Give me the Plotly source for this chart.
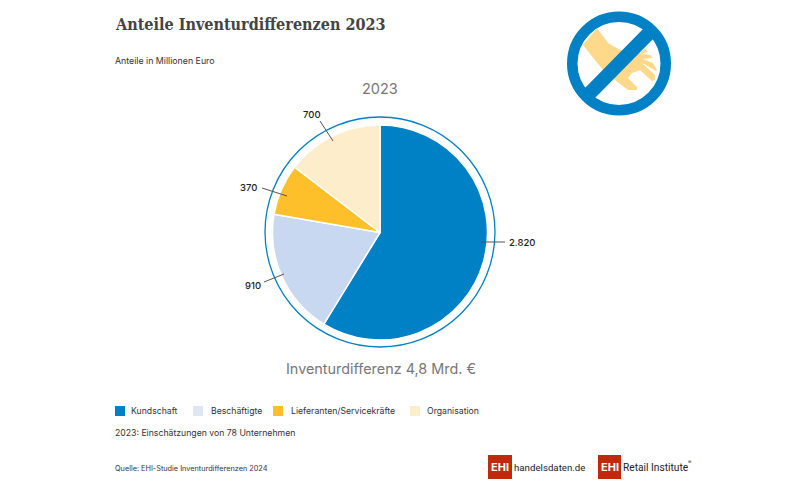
import plotly.graph_objects as go

W, H = 800, 484

categories = ["Kundschaft", "Beschäftigte", "Lieferanten/Servicekräfte", "Organisation"]
values = [2820, 910, 370, 700]
value_labels = ["2.820", "910", "370", "700"]
colors = ["#0080C5", "#C8D8F0", "#FDC02B", "#FEEDCB"]
legend_colors = ["#0080C5", "#DFE7F5", "#FDC02B", "#FEEDCB"]


def px(x):
    return x / W


def py(y):
    return 1 - y / H


def line(x0, y0, x1, y1, color="#555555", width=1):
    return dict(type="line", xref="paper", yref="paper", x0=px(x0), y0=py(y0), x1=px(x1), y1=py(y1),
                line=dict(color=color, width=width), layer="above")


def circle(cx, cy, r, color, width):
    return dict(type="circle", xref="paper", yref="paper", x0=px(cx - r), x1=px(cx + r), y0=py(cy + r), y1=py(cy - r),
                line=dict(color=color, width=width), layer="above")


def rect(x0, y0, x1, y1, color):
    return dict(type="rect", xref="paper", yref="paper", x0=px(x0), x1=px(x1), y0=py(y1), y1=py(y0),
                fillcolor=color, line=dict(width=0), layer="above")


def path(points, color):
    d = "M " + " L ".join(f"{px(x)},{py(y)}" for x, y in points) + " Z"
    return dict(type="path", xref="paper", yref="paper", path=d, fillcolor=color, line=dict(width=0), layer="above")


def text(x, y, s, size=9, color="#333333", anchor="left", family="Inter", bold=False, weight=None):
    font = dict(size=size, color=color, family=family)
    if weight:
        font["weight"] = weight
    return dict(xref="paper", yref="paper", x=px(x), y=py(y), text=f"<b>{s}</b>" if bold else s, showarrow=False,
                xanchor=anchor, yanchor="middle", font=font, borderpad=0)


fig = go.Figure(go.Pie(
    labels=categories,
    values=values,
    sort=False,
    direction="clockwise",
    rotation=0,
    textinfo="none",
    showlegend=False,
    marker=dict(colors=colors, line=dict(color="white", width=1.5)),
    domain=dict(x=[px(272.5), px(487.5)], y=[py(340), py(125)]),
))

# Ring and leader lines round the pie
shapes = [
    circle(380, 232, 115, "#0080C5", 1.3),
    line(481, 242, 505, 242),
    line(284, 274, 264, 282),
    line(287, 196, 262, 188),
    line(333, 141, 320, 121),
]

# Crossed-out hand icon
hand = [(583, 45), (597, 28), (608, 43), (620, 50), (640, 53), (646, 48), (647, 52), (642, 54), (650, 55), (653, 58),
        (643, 59), (653, 63), (657, 70), (656, 71), (642, 63), (655, 75), (655, 80), (652, 81), (640, 70), (632, 73),
        (628, 78), (637, 87), (637, 90), (628, 90), (615, 80), (603, 70)]
shapes += [
    path(hand, "#FED98B"),
    circle(619, 63.5, 46.75, "#0080C5", 10.5),
    line(588, 95, 651, 31, "#0080C5", 14),
]

# Legend
for x, c in zip([115, 193, 273, 410], legend_colors):
    shapes.append(rect(x, 406, x + 10, 416, c))

# Logos
shapes += [rect(488, 455, 512, 479, "#BF2A0B"), rect(598, 455, 621, 479, "#BF2A0B")]

annotations = [
    text(113.5, 25, "Anteile Inventurdifferenzen 2023", 16.05, "#444444", family="DejaVu Serif Condensed", bold=True),
    text(114, 61, "Anteile in Millionen Euro", 8.8),
    text(380, 88, "2023", 14.5, "#777777", "center"),
    text(381, 368, "Inventurdifferenz 4,8 Mrd. €", 14.4, "#777777", "center"),
    text(508, 242, value_labels[0], 9.5, "#222222", weight=500),
    text(262, 285, value_labels[1], 9.5, "#222222", "right", weight=500),
    text(258, 187, value_labels[2], 9.5, "#222222", "right", weight=500),
    text(322, 114, value_labels[3], 9.5, "#222222", "right", weight=500),
    text(130, 411, categories[0], 8.7),
    text(210, 411, categories[1], 8.7),
    text(290, 411, categories[2], 8.7),
    text(426, 411, categories[3], 8.7),
    text(114, 433, "2023: Einschätzungen von 78 Unternehmen", 8.7),
    text(114, 468, "Quelle: EHI-Studie Inventurdifferenzen 2024", 7.3),
    text(500, 467, "EHI", 11, "white", "center", bold=True),
    text(513, 467, "handelsdaten.de", 9.7, "#222222", family="Roboto"),
    text(609.5, 467, "EHI", 11, "white", "center", bold=True),
    text(622, 467, "Retail Institute", 10.2, "#222222", family="Roboto"),
    text(687, 462, "®", 5, "#222222"),
]

fig.update_layout(
    width=W,
    height=H,
    margin=dict(l=0, r=0, t=0, b=0),
    paper_bgcolor="white",
    plot_bgcolor="white",
    shapes=shapes,
    annotations=annotations,
)

# Page margin would otherwise push the figure 8px off
fig.write_html("out.html", config={"displayModeBar": False}, post_script="document.body.style.margin = '0';")
